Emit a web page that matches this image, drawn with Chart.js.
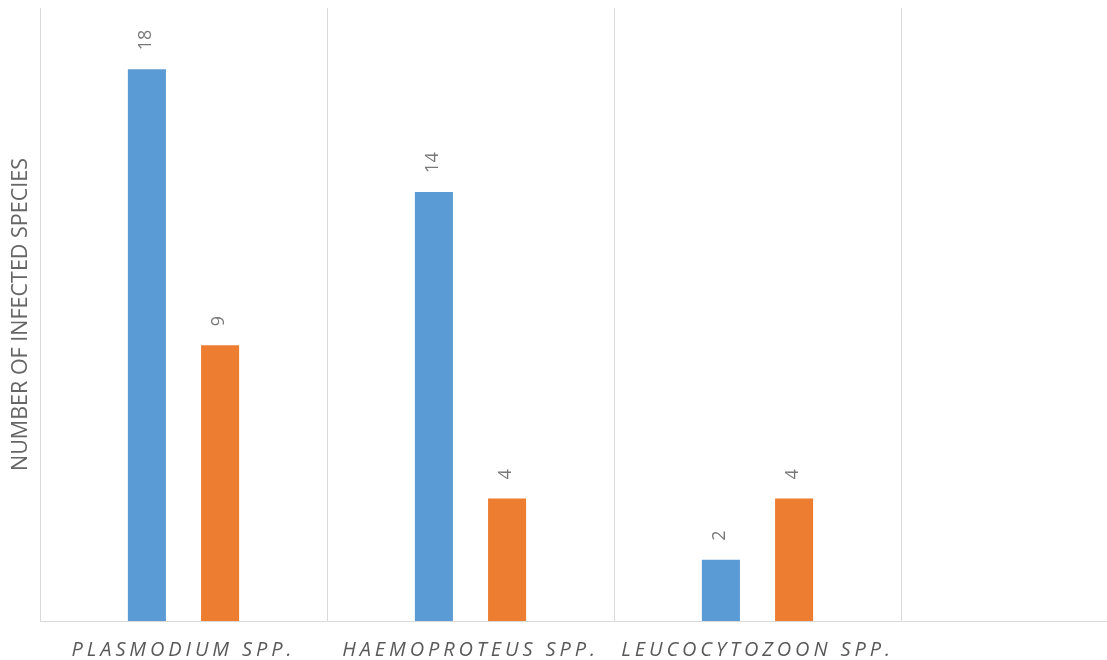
<!DOCTYPE html>
<html>
<head>
<meta charset="utf-8">
<title>Infected species by parasite genus</title>
<script src="https://cdn.jsdelivr.net/npm/chart.js@4/dist/chart.umd.min.js"></script>
<style>
  html, body { margin: 0; padding: 0; background: #fff; overflow: hidden; }
  #wrap { width: 1190px; height: 660px; }
</style>
</head>
<body>
<div id="wrap"><canvas id="myChart"></canvas></div>
<script>
// values
const categories = ['PLASMODIUM SPP.', 'HAEMOPROTEUS SPP.', 'LEUCOCYTOZOON SPP.', ''];
const seriesBlue = [18, 14, 2, null];
const seriesOrange = [9, 4, 4, null];
const yTitle = 'NUMBER OF INFECTED SPECIES';

// value labels turned on their side, above each bar
const barLabels = {
  id: 'barLabels',
  afterDatasetsDraw(chart) {
    const ctx = chart.ctx;
    chart.data.datasets.forEach((ds, i) => {
      chart.getDatasetMeta(i).data.forEach((bar, j) => {
        const v = ds.data[j];
        if (v == null) return;
        ctx.save();
        ctx.translate(bar.x - 1, bar.y - 19);
        ctx.rotate(-Math.PI / 2);
        ctx.font = '18px "Open Sans"';
        ctx.fillStyle = '#787878';
        ctx.textAlign = 'left';
        ctx.textBaseline = 'middle';
        ctx.fillText(String(v), 0, 0);
        ctx.restore();
      });
    });
  }
};

// spaced out category labels
const spacedTicks = {
  id: 'spacedTicks',
  afterLayout(chart) {
    const s = chart.scales.x;
    if (s._spaced) return;
    const orig = s.drawLabels.bind(s);
    s.drawLabels = function (area) {
      this.ctx.save();
      this.ctx.letterSpacing = '3.9px';
      orig(area);
      this.ctx.restore();
    };
    s._spaced = true;
  }
};

new Chart(document.getElementById('myChart'), {
  type: 'bar',
  data: {
    labels: categories,
    datasets: [
      { data: seriesBlue, backgroundColor: '#5B9BD5', categoryPercentage: 0.51, barPercentage: 0.52 },
      { data: seriesOrange, backgroundColor: '#ED7D31', categoryPercentage: 0.51, barPercentage: 0.52 }
    ]
  },
  options: {
    responsive: true,
    maintainAspectRatio: false,
    animation: false,
    layout: { padding: { top: 8, right: 2, left: 0, bottom: 0 } },
    plugins: { legend: { display: false }, tooltip: { enabled: false } },
    scales: {
      x: {
        offset: true,
        grid: { offset: true, color: '#d9d9d9', lineWidth: 1, drawTicks: false },
        border: { color: '#d9d9d9' },
        ticks: {
          autoSkip: false, maxRotation: 0, minRotation: 0, padding: 17,
          color: '#595959',
          font: { family: '"Open Sans"', size: 20, style: 'italic' }
        },
        afterFit(scale) { scale.height = 39; }
      },
      y: {
        min: 0, max: 20,
        grid: { display: false },
        border: { display: false },
        ticks: { display: false },
        title: {
          display: true, text: yTitle, color: '#666666',
          font: { family: '"Open Sans"', size: 21.5 },
          padding: { top: 8, bottom: 0 }
        },
        afterFit(scale) { scale.width = 40; }
      }
    }
  },
  plugins: [barLabels, spacedTicks]
});
</script>
</body>
</html>
